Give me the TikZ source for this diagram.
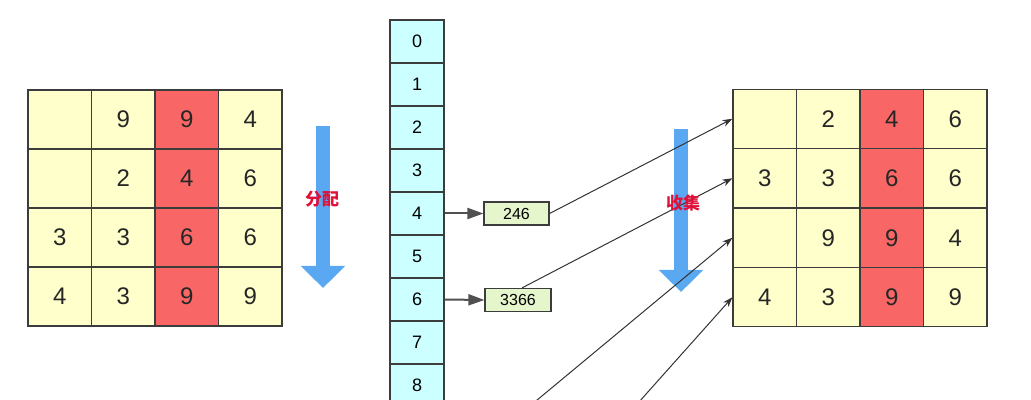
\documentclass[tikz,border=0pt]{standalone}
\usepackage{fontspec}
\setmainfont{Liberation Sans}
\newfontfamily\cjk{Noto Sans CJK SC}
\usetikzlibrary{arrows.meta}
\definecolor{cellyellow}{HTML}{FFFFCC}
\definecolor{cellred}{HTML}{F86666}
\definecolor{bucketcyan}{HTML}{CCFFFF}
\definecolor{boxgreen}{HTML}{E6F6CC}
\definecolor{edge}{HTML}{3C3C3C}
\definecolor{flowblue}{HTML}{5AA8F2}
\definecolor{tagred}{HTML}{E0103A}

\begin{document}
\begin{tikzpicture}[x=0.5pt,y=-0.5pt,
  cell/.style={draw=edge, line width=0.6pt, minimum width=31.75pt, minimum height=29.5pt, inner sep=0pt},
  digit/.style={font=\fontsize{12}{14}\selectfont, text=black!85},
  bucket/.style={draw=edge, line width=0.6pt, fill=bucketcyan, minimum width=27pt, minimum height=21.5pt, inner sep=0pt, font=\fontsize{9}{10}\selectfont},
  chain/.style={draw=edge, line width=0.6pt, fill=boxgreen, minimum height=11.5pt, inner sep=0pt, font=\fontsize{8}{9}\selectfont},
  push/.style={draw=edge!90, line width=1pt, -{Triangle[length=8pt,width=5.5pt]}},
  link/.style={draw=black!80, line width=0.5pt, -{Stealth[length=5pt,width=3.5pt]}},
  flow/.style={draw=flowblue, line width=7pt, -{Triangle[length=11pt,width=21.5pt]}},
  tag/.style={text=tagred, font=\cjk\bfseries\fontsize{8.5}{9}\selectfont}]
\clip (0,0) rectangle (1031,400);

% left grid, before
\foreach \r in {1,...,4}
  \foreach \c/\f in {1/cellyellow,2/cellyellow,3/cellred,4/cellyellow}
    \node[cell, fill=\f] (L-\r-\c) at ({28+63.5*(\c-0.5)},{90+59*(\r-0.5)}) {};
\foreach \r/\c/\v in {1/2/9,1/3/9,1/4/4,2/2/2,2/3/4,2/4/6,3/1/3,3/2/3,3/3/6,3/4/6,4/1/4,4/2/3,4/3/9,4/4/9}
  \node[digit] at (L-\r-\c) {\v};

% right grid, after
\foreach \r in {1,...,4}
  \foreach \c/\f in {1/cellyellow,2/cellyellow,3/cellred,4/cellyellow}
    \node[cell, fill=\f] (R-\r-\c) at ({733+63.5*(\c-0.5)},{89+59.5*(\r-0.5)}) {};
\foreach \r/\c/\v in {1/2/2,1/3/4,1/4/6,2/1/3,2/2/3,2/3/6,2/4/6,3/2/9,3/3/9,3/4/4,4/1/4,4/2/3,4/3/9,4/4/9}
  \node[digit] at (R-\r-\c) {\v};

% buckets
\foreach \i in {0,...,8}
  \node[bucket] (B\i) at (417,{20+43*(\i+0.5)}) {\i};

\node[chain, minimum width=32.5pt] (b4) at (516.5,213.5) {246};
\node[chain, minimum width=33pt] (b6) at (518,300) {3366};
\coordinate (b8) at (501,430);
\coordinate (b9) at (614,430);

\draw[push] (B4.east) -- (b4.west);
\draw[push] (B6.east) -- (b6.west);

% blue arrows
\draw[flow] (323,126) -- (323,288);
\draw[flow] (681,129) -- (681,292);

% collect
\draw[link] (b4.east) -- (R-1-1.west);
\draw[link] ([xshift=2pt]b6.north) -- (R-2-1.west);
\draw[link] (b8) -- (R-3-1.west);
\draw[link] (b9) -- (R-4-1.west);

\node[tag] (t1) at (322,199) {分配};
\node[tag] (t2) at (683,203) {收集};
\end{tikzpicture}
\end{document}
